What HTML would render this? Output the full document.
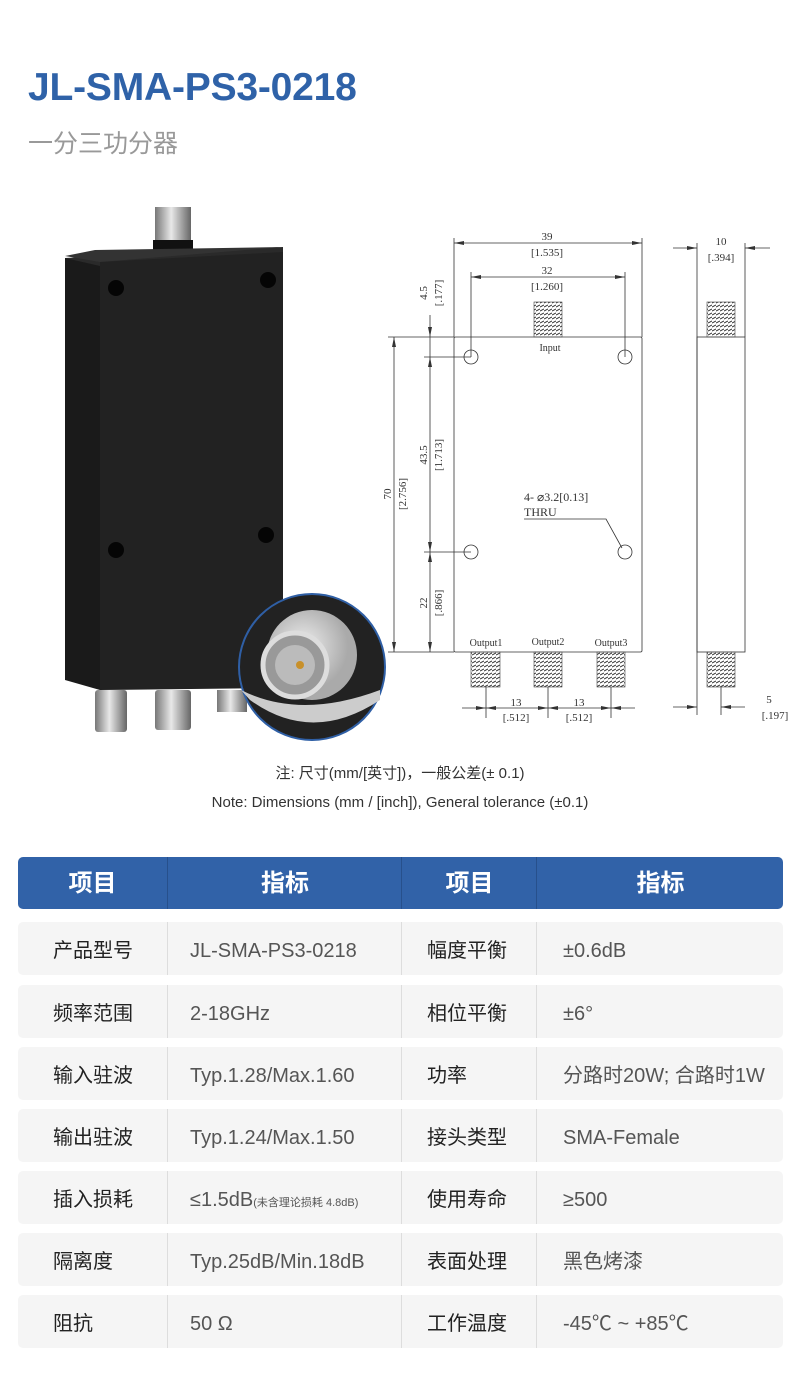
<!DOCTYPE html>
<html><head><meta charset="utf-8"><style>
body{margin:0;width:800px;height:1377px;background:#fff;position:relative;font-family:"Liberation Sans","Noto Sans CJK SC",sans-serif;overflow:hidden}
.a{position:absolute}
.title{left:28px;top:66px;font-size:39px;color:#2f62a8;font-weight:bold;letter-spacing:-0.2px}
.sub{left:28px;top:124px;font-size:25px;color:#999}
.note{left:0;width:800px;text-align:center;font-size:15px;color:#333}
.hdr{left:18px;top:857px;width:765px;height:52px;background:#3162a8;border-radius:5px;color:#fff;font-size:24px;font-weight:bold}
.row{left:18px;width:765px;height:53px;background:#f5f5f5;border-radius:5px;font-size:20px;color:#555}
.c{position:absolute;top:0;height:100%;line-height:58px;white-space:nowrap}
.hdr .c{line-height:54px;text-align:center}
.c1{left:0;width:114px;padding-left:35px;color:#222}
.c3{left:383px;width:110px;padding-left:25px;color:#222}
.bd{border-left:1px solid #ddd}
.hdr .bd{border-left:1px solid #27508c}
</style></head><body>
<div class="a title">JL-SMA-PS3-0218</div>
<div class="a sub">一分三功分器</div>

<svg class="a" style="left:0;top:0" width="800" height="760">
<defs>
<linearGradient id="met" x1="0" x2="1"><stop offset="0" stop-color="#777"/><stop offset=".45" stop-color="#e8e8e8"/><stop offset="1" stop-color="#666"/></linearGradient>
<pattern id="th" width="4" height="4" patternUnits="userSpaceOnUse"><path d="M0 3L4 1" stroke="#333" stroke-width="1"/></pattern>
<radialGradient id="cg" cx=".4" cy=".4"><stop offset="0" stop-color="#eee"/><stop offset="1" stop-color="#aaa"/></radialGradient>
</defs>
<rect x="155" y="207" width="36" height="40" fill="url(#met)"/>
<rect x="153" y="240" width="40" height="14" fill="#111"/>
<rect x="95" y="690" width="32" height="42" rx="3" fill="url(#met)"/>
<rect x="155" y="690" width="36" height="40" rx="3" fill="url(#met)"/>
<rect x="217" y="690" width="30" height="22" fill="url(#met)"/>
<polygon points="65,258 100,258 100,690 65,680" fill="#1a1a1a"/>
<polygon points="65,258 100,266 283,256 283,247" fill="#2a2a2a"/>
<polygon points="65,256 95,250 283,247 100,262" fill="#333"/>
<polygon points="100,262 283,252 283,688 100,690" fill="#222"/>
<circle cx="116" cy="288" r="8" fill="#050505"/><circle cx="268" cy="280" r="8" fill="#050505"/>
<circle cx="116" cy="550" r="8" fill="#050505"/><circle cx="266" cy="535" r="8" fill="#050505"/>
<circle cx="312" cy="667" r="73" fill="#222" stroke="#2f5fa5" stroke-width="2"/>
<path d="M241 690 Q300 720 380 690 L380 700 Q312 745 250 700Z" fill="#ccc"/>
<circle cx="312" cy="655" r="45" fill="url(#cg)"/>
<circle cx="295" cy="665" r="32" fill="#999" stroke="#ddd" stroke-width="5"/>
<circle cx="295" cy="665" r="20" fill="#bbb"/>
<circle cx="300" cy="665" r="4" fill="#c8902a"/>

<g fill="none" stroke="#333" stroke-width="0.8">
<rect x="454" y="337" width="188" height="315" rx="1.5"/>
<rect x="697" y="337" width="48" height="315"/>
<circle cx="471" cy="357" r="7"/><circle cx="625" cy="357" r="7"/>
<circle cx="471" cy="552" r="7"/><circle cx="625" cy="552" r="7"/>
<path d="M454 337V238M642 337V238M454 243H642M471 357V272M625 357V272M471 277H625"/>
<path d="M388 337H454M388 652H454M394 337V652M424 357H471M424 552H471M430 315V652"/>
<path d="M486 687V718M548 687V718M611 687V718M462 708H486M486 708H548M548 708H611M611 708H635"/>
<path d="M697 243V715M745 243V337M673 248H697M745 248H770M721 687V715M673 707H697M721 707H745"/>
<path d="M524 519H606L622 548"/>
</g>
<g fill="#333" stroke="none">
<path d="M454 243l10-2v4zM642 243l-10-2v4zM471 277l10-2v4zM625 277l-10-2v4z"/>
<path d="M394 337l-2 10h4zM394 652l-2-10h4zM430 337l-2-10h4zM430 357l-2 10h4zM430 552l-2-10h4zM430 552l-2 10h4zM430 652l-2-10h4z"/>
<path d="M486 708l-10-2v4zM486 708l10-2v4zM548 708l-10-2v4zM548 708l10-2v4zM611 708l-10-2v4zM611 708l10-2v4z"/>
<path d="M697 248l-10-2v4zM745 248l10-2v4zM697 707l-10-2v4zM721 707l10-2v4z"/>
</g>
<g fill="url(#th)" stroke="#444" stroke-width="0.6">
<rect x="534" y="302" width="28" height="35"/><rect x="707" y="302" width="28" height="35"/>
<rect x="471" y="652" width="29" height="35"/><rect x="534" y="652" width="28" height="35"/><rect x="597" y="652" width="28" height="35"/><rect x="707" y="652" width="28" height="35"/>
</g>
<g font-family="Liberation Serif,serif" font-size="11" fill="#333" text-anchor="middle">
<text x="547" y="240">39</text><text x="547" y="256">[1.535]</text>
<text x="547" y="274">32</text><text x="547" y="290">[1.260]</text>
<text x="550" y="351" font-size="10">Input</text>
<text x="721" y="245">10</text><text x="721" y="261">[.394]</text>
<text x="486" y="646" font-size="10">Output1</text><text x="548" y="645" font-size="10">Output2</text><text x="611" y="646" font-size="10">Output3</text>
<text x="516" y="706">13</text><text x="516" y="721">[.512]</text>
<text x="579" y="706">13</text><text x="579" y="721">[.512]</text>
<text x="769" y="703">5</text><text x="775" y="719">[.197]</text>
<text x="524" y="501" text-anchor="start" font-size="12">4- ⌀3.2[0.13]</text>
<text x="524" y="516" text-anchor="start" font-size="12">THRU</text>
<g transform="translate(391,494) rotate(-90)"><text x="0" y="0">70</text><text x="0" y="15">[2.756]</text></g>
<g transform="translate(427,293) rotate(-90)"><text x="0" y="0">4.5</text><text x="0" y="15">[.177]</text></g>
<g transform="translate(427,455) rotate(-90)"><text x="0" y="0">43.5</text><text x="0" y="15">[1.713]</text></g>
<g transform="translate(427,603) rotate(-90)"><text x="0" y="0">22</text><text x="0" y="15">[.866]</text></g>
</g>
</svg>

<div class="a note" style="top:762px">注: 尺寸(mm/[英寸])，一般公差(± 0.1)</div>
<div class="a note" style="top:794px">Note: Dimensions (mm / [inch]), General tolerance (±0.1)</div>

<div class="a hdr">
<div class="c" style="left:0;width:149px">项目</div>
<div class="c bd" style="left:149px;width:234px">指标</div>
<div class="c bd" style="left:383px;width:135px">项目</div>
<div class="c bd" style="left:518px;width:247px">指标</div>
</div>

<div class="a row" style="top:922px"><div class="c c1">产品型号</div><div class="c bd" style="left:149px;width:212px;padding-left:22px">JL-SMA-PS3-0218</div><div class="c c3 bd">幅度平衡</div><div class="c bd" style="left:518px;width:221px;padding-left:26px">±0.6dB</div></div>
<div class="a row" style="top:985px"><div class="c c1">频率范围</div><div class="c bd" style="left:149px;width:212px;padding-left:22px">2-18GHz</div><div class="c c3 bd">相位平衡</div><div class="c bd" style="left:518px;width:221px;padding-left:26px">±6°</div></div>
<div class="a row" style="top:1047px"><div class="c c1">输入驻波</div><div class="c bd" style="left:149px;width:212px;padding-left:22px">Typ.1.28/Max.1.60</div><div class="c c3 bd">功率</div><div class="c bd" style="left:518px;width:221px;padding-left:26px">分路时20W; 合路时1W</div></div>
<div class="a row" style="top:1109px"><div class="c c1">输出驻波</div><div class="c bd" style="left:149px;width:212px;padding-left:22px">Typ.1.24/Max.1.50</div><div class="c c3 bd">接头类型</div><div class="c bd" style="left:518px;width:221px;padding-left:26px">SMA-Female</div></div>
<div class="a row" style="top:1171px"><div class="c c1">插入损耗</div><div class="c bd" style="left:149px;width:212px;padding-left:22px">≤1.5dB<span style="font-size:11px">(未含理论损耗 4.8dB)</span></div><div class="c c3 bd">使用寿命</div><div class="c bd" style="left:518px;width:221px;padding-left:26px">≥500</div></div>
<div class="a row" style="top:1233px"><div class="c c1">隔离度</div><div class="c bd" style="left:149px;width:212px;padding-left:22px">Typ.25dB/Min.18dB</div><div class="c c3 bd">表面处理</div><div class="c bd" style="left:518px;width:221px;padding-left:26px">黑色烤漆</div></div>
<div class="a row" style="top:1295px"><div class="c c1">阻抗</div><div class="c bd" style="left:149px;width:212px;padding-left:22px">50 Ω</div><div class="c c3 bd">工作温度</div><div class="c bd" style="left:518px;width:221px;padding-left:26px">-45℃ ~ +85℃</div></div>
</body></html>
